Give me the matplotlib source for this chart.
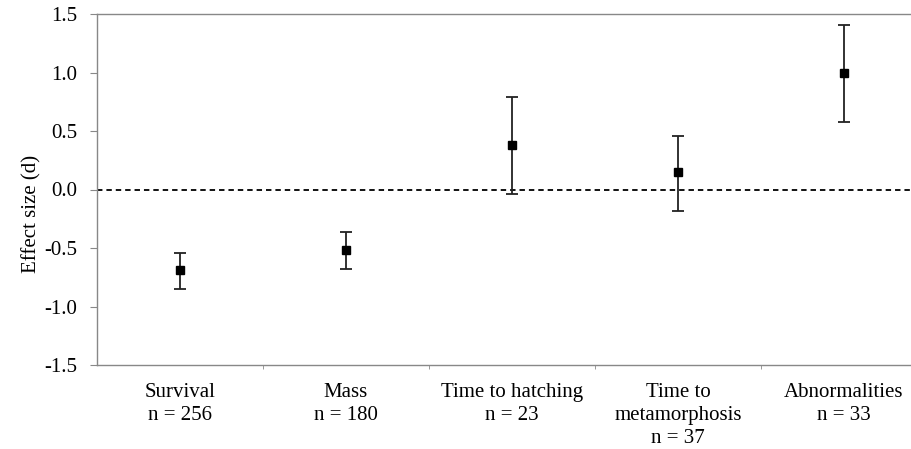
import numpy as np
import matplotlib
matplotlib.use("Agg")
import matplotlib.pyplot as plt
from matplotlib.ticker import FixedLocator

plt.rcParams['font.family'] = ['Liberation Serif', 'DejaVu Serif']
plt.rcParams['axes.unicode_minus'] = False

categories = ["Survival\nn = 256", "Mass\nn = 180", "Time to hatching\nn = 23",
              "Time to\nmetamorphosis\nn = 37", "Abnormalities\nn = 33"]
effect = [-0.69, -0.52, 0.38, 0.15, 1.00]
ci_low = [-0.85, -0.68, -0.04, -0.18, 0.58]
ci_high = [-0.54, -0.36, 0.79, 0.46, 1.41]

effect = np.array(effect)
yerr = [effect - np.array(ci_low), np.array(ci_high) - effect]
x = np.arange(len(categories))

fig = plt.figure(figsize=(9.12, 4.49), dpi=100)
ax = fig.add_axes([97/912, 1 - 365/449, 1 - 97/912, (365 - 14)/449])

ax.axhline(0, color="black", linestyle=(0, (3, 2.2)), linewidth=1.3, zorder=1)
ax.errorbar(x, effect, yerr=yerr, fmt="s", color="black", ecolor="#222222",
            elinewidth=1.3, capsize=4, capthick=1.3, markersize=5.5, zorder=3)

ax.set_xlim(-0.5, 4.41)
ax.set_ylim(-1.5, 1.5)
ax.set_yticks(np.arange(-1.5, 1.51, 0.5))
ax.set_yticklabels(["%.1f" % v for v in np.arange(-1.5, 1.51, 0.5)])
ax.set_xticks(x)
ax.set_xticklabels(categories, fontsize=15, linespacing=1.3)
ax.xaxis.set_minor_locator(FixedLocator(np.arange(0.5, 4.0, 1.0)))
ax.tick_params(axis="x", which="major", length=0, pad=13)
ax.tick_params(axis="x", which="minor", length=3, color="#888888")
ax.tick_params(axis="y", length=5, color="#888888", labelsize=15, pad=9)
ax.set_ylabel("Effect size (d)", fontsize=15)
ax.yaxis.set_label_coords(-0.068, 0.43)

for s in ["left", "bottom", "top"]:
    ax.spines[s].set_color("#888888")
    ax.spines[s].set_linewidth(1.0)
ax.spines["right"].set_visible(False)

fig.savefig("out.png", dpi=100)
